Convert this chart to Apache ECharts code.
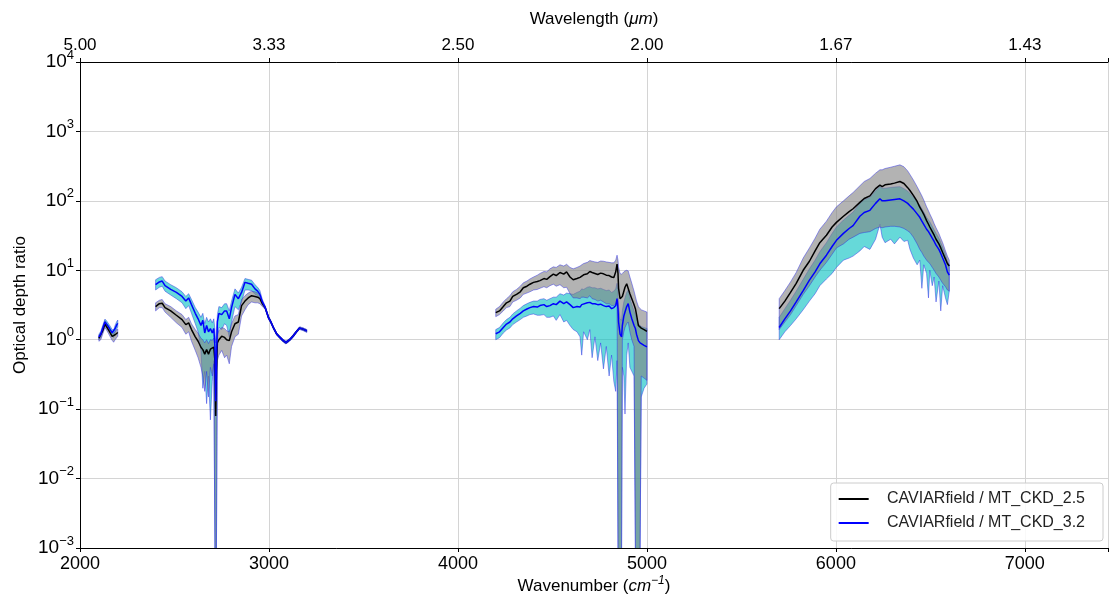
<!DOCTYPE html>
<html>
<head>
<meta charset="utf-8">
<script src="https://cdn.jsdelivr.net/npm/echarts@6/dist/echarts.min.js"></script>
<style>html,body{margin:0;padding:0;background:#fff}#c{width:1110px;height:595px}</style>
</head>
<body>
<div id="c"></div>
<script>
// ---- data (wavenumber in cm-1; optical depth ratios) ----
const s1_wn = [2100,2110,2120,2132,2140,2150,2160,2170,2178,2186,2195,2200];
const s1_k25 = [1.05,1.12,1.35,1.68,1.55,1.40,1.25,1.12,1.10,1.18,1.24,1.27];
const s1_k32 = [1.10,1.20,1.45,1.80,1.70,1.55,1.40,1.26,1.23,1.45,1.65,1.72];
const s1_k25lo = [0.95,1.0,1.2,1.5,1.38,1.24,1.1,0.98,0.92,1.0,1.08,1.12];
const s1_k25hi = [1.16,1.25,1.5,1.88,1.74,1.57,1.4,1.27,1.24,1.33,1.4,1.43];
const s1_k32lo = [1.0,1.08,1.3,1.62,1.52,1.38,1.24,1.12,1.08,1.28,1.46,1.52];
const s1_k32hi = [1.2,1.32,1.6,1.98,1.88,1.72,1.56,1.4,1.38,1.62,1.84,1.92];

const s2_wn = [2400,2420,2435,2450,2480,2510,2540,2560,2575,2590,2610,2625,2640,2650,2660,2670,2680,2690,2700,2708,2714,2718,2722,2727,2735,2750,2765,2776,2790,2802,2820,2838,2855,2873,2890,2908,2926,2940,2952,2965,2980,2997,3010,3023,3040,3058,3075,3090,3110,3129,3145,3162,3180,3200];
const s2_k25 = [3.0,3.3,3.35,2.9,2.6,2.25,1.95,1.65,1.75,1.4,1.1,0.95,0.78,0.72,0.62,0.72,0.62,0.73,0.7,0.78,0.5,0.08,0.35,0.9,1.0,1.12,1.08,1.0,0.97,1.3,1.7,1.8,3.1,3.6,4.0,4.3,4.2,4.1,3.9,3.3,2.9,2.1,1.8,1.5,1.22,1.08,0.97,0.91,1.0,1.14,1.3,1.47,1.42,1.34];
const s2_k32 = [6.2,6.8,7.0,6.0,5.3,4.8,4.2,3.6,4.0,3.2,2.4,2.0,1.6,1.9,1.25,1.6,1.3,1.45,1.25,1.45,0.8,0.13,0.5,1.8,2.4,2.3,2.6,2.6,2.0,2.9,4.5,3.9,4.8,6.7,6.5,6.3,5.4,5.0,4.5,3.5,2.9,2.1,1.8,1.5,1.22,1.08,0.97,0.91,1.0,1.14,1.3,1.47,1.42,1.34];
const s2_k25hi = [3.4,3.7,3.8,3.3,3.0,2.6,2.3,1.95,2.1,1.7,1.4,1.25,1.05,1.0,0.9,1.0,0.88,1.0,0.98,1.05,0.8,0.6,0.7,1.2,1.35,1.5,1.45,1.35,1.3,1.7,2.2,2.3,3.8,4.3,4.7,5.0,4.9,4.7,4.4,3.6,3.05,2.2,1.88,1.56,1.27,1.12,1.01,0.95,1.04,1.19,1.35,1.53,1.48,1.4];
const s2_k25lo = [2.6,2.9,2.9,2.5,2.1,1.75,1.5,1.2,1.3,0.95,0.7,0.55,0.4,0.3,0.18,0.35,0.15,0.4,0.3,0.45,1e-4,1e-4,1e-4,0.5,0.6,0.7,0.55,0.6,0.45,0.8,1.1,1.2,2.2,2.7,3.2,3.5,3.4,3.4,3.3,3.0,2.75,2.0,1.72,1.44,1.17,1.04,0.93,0.87,0.96,1.09,1.25,1.41,1.36,1.28];
const s2_k32hi = [7.3,7.9,8.1,7.0,6.2,5.6,4.9,4.2,4.6,3.8,2.9,2.5,2.1,2.4,1.7,2.1,1.8,2.0,1.75,2.0,1.4,0.9,1.2,2.3,3.0,2.9,3.3,3.3,2.6,3.6,5.4,4.7,5.7,7.6,7.4,7.2,6.2,5.7,5.1,3.8,3.05,2.2,1.88,1.56,1.27,1.12,1.01,0.95,1.04,1.19,1.35,1.53,1.48,1.4];
const s2_k32lo = [5.2,5.7,5.9,5.0,4.4,3.9,3.4,2.8,3.1,2.4,1.7,1.3,0.7,0.2,0.35,0.12,0.3,0.07,0.25,0.5,1e-4,1e-4,1e-4,1.0,1.5,1.4,1.7,1.6,1.1,1.8,3.0,2.7,3.5,5.2,5.2,5.1,4.5,4.3,3.9,3.2,2.75,2.0,1.72,1.44,1.17,1.04,0.93,0.87,0.96,1.09,1.25,1.41,1.36,1.28];

const s3_wn = [4200,4220,4240,4257,4275,4290,4310,4330,4346,4365,4381,4400,4420,4434,4455,4470,4487,4505,4520,4540,4560,4575,4593,4610,4630,4646,4655,4665,4685,4698,4710,4725,4740,4755,4770,4785,4800,4813,4825,4835,4842,4847,4850,4858,4866,4870,4878,4884,4893,4901,4910,4920,4932,4939,4945,4955,4964,4970,4985,5000];
const s3_k25 = [2.45,2.6,3.0,3.4,3.6,4.2,4.5,4.9,5.6,5.9,6.3,6.7,6.9,7.1,7.6,7.4,8.1,8.8,8.4,9.3,8.8,9.5,8.0,7.3,7.6,7.9,8.3,8.6,8.9,9.6,9.3,9.0,8.7,9.1,8.9,8.5,8.4,8.0,7.9,9.5,12.3,9.0,5.5,3.9,3.7,4.2,5.0,5.7,6.4,6.3,4.6,3.9,3.2,2.8,2.3,1.6,1.5,1.47,1.4,1.32];
const s3_k32 = [1.22,1.3,1.5,1.68,1.8,2.0,2.2,2.4,2.6,2.77,2.9,3.0,2.95,3.1,3.2,3.0,3.1,3.3,3.2,3.6,3.3,3.5,3.2,2.9,3.0,2.95,3.2,3.1,3.4,3.45,3.3,3.3,3.2,3.25,3.1,3.0,3.05,2.8,2.9,3.1,3.9,2.8,1.8,1.2,1.1,1.6,2.2,2.5,3.0,3.3,2.5,2.0,1.6,1.45,1.2,0.97,0.9,0.87,0.83,0.79];
const s3_k25hi = [2.75,3.0,3.5,3.9,4.3,4.9,5.3,5.9,6.6,7.0,7.5,8.0,8.5,9.0,9.6,9.5,10.5,11.2,11.0,12.0,11.5,12.2,11.0,10.5,11.0,11.5,12.0,12.5,13.0,13.8,13.5,13.2,13.0,13.6,13.5,13.2,13.0,12.8,12.8,14.0,16.5,14.0,11.0,9.0,8.8,9.0,9.5,9.8,10.0,9.8,8.0,6.5,5.0,4.2,3.6,3.0,2.8,2.7,2.6,2.5];
const s3_k25lo = [2.15,2.3,2.6,2.9,3.0,3.5,3.7,4.0,4.5,4.7,4.9,5.2,5.3,5.5,5.8,5.6,6.0,6.3,5.9,6.2,5.6,5.7,4.6,4.0,4.0,3.9,4.1,4.1,4.0,4.3,3.9,3.8,3.6,3.7,3.5,3.3,3.3,3.1,3.1,3.3,3.6,1e-4,1e-4,1e-4,1e-4,1.0,1.3,1.5,1.7,1.8,1.3,1.0,0.8,1e-4,1e-4,1e-4,1e-4,0.3,0.28,0.26];
const s3_k32hi = [1.4,1.5,1.75,1.95,2.1,2.35,2.6,2.85,3.1,3.3,3.45,3.6,3.6,3.8,3.9,3.7,3.9,4.1,4.1,4.6,4.4,4.7,4.6,4.5,4.8,5.0,5.4,5.3,5.7,5.8,5.6,5.6,5.4,5.5,5.3,5.1,5.2,4.8,5.0,5.4,6.5,4.8,3.0,2.0,1.9,2.6,3.5,4.0,4.8,5.2,4.0,3.2,2.6,2.3,2.0,1.7,1.6,1.55,1.5,1.45];
const s3_k32lo = [1.0,1.07,1.25,1.38,1.48,1.65,1.8,1.95,2.1,2.2,2.3,2.35,2.25,2.25,2.3,2.1,2.1,2.2,1.9,2.3,1.8,1.9,1.6,1.4,1.3,1.1,0.6,1.3,1.0,1.4,0.55,1.1,0.5,0.9,0.38,0.8,0.3,0.6,0.25,0.18,0.5,1e-4,1e-4,1e-4,1e-4,0.4,0.3,0.085,0.6,0.9,0.4,0.35,0.3,1e-4,1e-4,1e-4,1e-4,0.15,0.2,0.23];

const s4_wn = [5700,5730,5760,5790,5827,5860,5890,5915,5950,5980,6003,6040,6070,6091,6127,6150,6180,6210,6233,6245,6260,6290,6310,6339,6360,6380,6392,6410,6430,6444,6455,6465,6480,6490,6497,6510,6520,6530,6545,6555,6565,6580,6590,6600];
const s4_k25 = [2.8,3.6,4.8,6.5,10.0,13.5,19,25,32,42,49,60,70,77,95,108,118,150,168,160,170,175,180,190,178,155,141,120,98,81,72,64,52,46,42,36,32,28,24,21,18,14.5,12.5,11.5];
const s4_k32 = [1.5,2.0,2.6,3.5,5.1,7.2,9.5,12.4,16.5,22,27,34,40,44,60,68,73,92,107,100,100,103,105,107,100,92,85,76,65,58,51,46,39,36,33.5,29,26,23,20,17.5,15,12,9.5,8.5];
const s4_k25hi = [3.9,5.1,6.8,9.3,15,21,29,39,51,68,82,100,118,132,165,190,210,250,280,280,292,305,315,330,310,270,240,200,160,135,118,103,82,72,65,55,47,41,34,29,25,19,16,14];
const s4_k25lo = [1.4,1.8,2.3,3.1,4.5,6.0,8.0,10,13,17,21,24,28,30,34,35,36,40,42,41,42,43,43,42,40,37,35,30,24,20,18,16,14,13,12.5,11,10,9,8,7.2,6.5,5.8,5.2,5.0];
const s4_k32hi = [2.1,2.8,3.7,5.0,7.4,10.5,14,18.5,25,34,42,53,62,69,92,104,112,140,160,152,152,156,158,160,150,138,128,113,97,87,77,69,58,53,50,43,38,34,29,25,21.5,17,13.5,12];
const s4_k32lo = [1.0,1.3,1.6,2.0,2.7,3.6,4.6,6.0,7.5,9,11,14,15,16,19,22,20,28,46,30,25,28,24,30,26,27,20,15,12,14,5.5,12,9,4,10,6,8,3.5,7,2.6,6,4,3.2,5];

const xTicks = [2000, 3000, 4000, 5000, 6000, 7000];
const seriesNames = ['CAVIARfield / MT_CKD_2.5', 'CAVIARfield / MT_CKD_3.2'];

// ---- assembly ----
const WN = [s1_wn, s2_wn, s3_wn, s4_wn];
const K25 = [s1_k25, s2_k25, s3_k25, s4_k25];
const K32 = [s1_k32, s2_k32, s3_k32, s4_k32];
const K25LO = [s1_k25lo, s2_k25lo, s3_k25lo, s4_k25lo];
const K25HI = [s1_k25hi, s2_k25hi, s3_k25hi, s4_k25hi];
const K32LO = [s1_k32lo, s2_k32lo, s3_k32lo, s4_k32lo];
const K32HI = [s1_k32hi, s2_k32hi, s3_k32hi, s4_k32hi];

const FONT = 'Liberation Sans, Arial, sans-serif';

function bandSeries(LO, HI, fill, z) {
  return {
    type: 'custom',
    coordinateSystem: 'cartesian2d',
    clip: true,
    silent: true,
    z: z,
    encode: { x: 0, y: 1 },
    data: WN.map((w, i) => [w[0], HI[i][0], i]),
    renderItem: function (params, api) {
      const i = api.value(2);
      const cs = params.coordSys;
      const yTop = cs.y, yBot = cs.y + cs.height;
      const w = WN[i], lo = LO[i], hi = HI[i];
      const pts = [];
      const clampP = p => [p[0], Math.max(yTop, Math.min(yBot + 2, p[1]))];
      for (let j = 0; j < w.length; j++) pts.push(clampP(api.coord([w[j], hi[j]])));
      for (let j = w.length - 1; j >= 0; j--) pts.push(clampP(api.coord([w[j], lo[j]])));
      return {
        type: 'polygon',
        shape: { points: pts },
        style: { fill: fill, stroke: 'rgba(40,40,230,0.45)', lineWidth: 1 }
      };
    }
  };
}

function lineSeries(name, VALS, color, z) {
  return WN.map((w, i) => ({
    name: name,
    type: 'line',
    z: z,
    symbol: 'none',
    showSymbol: false,
    silent: true,
    clip: true,
    lineStyle: { color: color, width: 1.5 },
    itemStyle: { color: color },
    data: w.map((x, j) => [x, VALS[i][j]])
  }));
}

const supFmt = v => {
  const e = Math.round(Math.log10(v));
  return '{b|10}{s|' + (e < 0 ? '\u2212' + (-e) : String(e)) + '}';
};

const chart = echarts.init(document.getElementById('c'), null, { renderer: 'canvas' });
chart.setOption({
  animation: false,
  backgroundColor: '#ffffff',
  grid: { left: 80, right: 2, top: 62, bottom: 47, containLabel: false, outerBoundsMode: 'none' },
  legend: {
    orient: 'vertical',
    right: 7,
    bottom: 54,
    padding: [7, 18, 9, 8],
    itemGap: 6,
    itemWidth: 30,
    itemHeight: 2,
    backgroundColor: 'rgba(255,255,255,0.85)',
    borderColor: '#cccccc',
    borderWidth: 1,
    borderRadius: 3,
    textStyle: { fontFamily: FONT, fontSize: 16, color: '#222', lineHeight: 18 },
    formatter: n => '   ' + n,
    data: [
      { name: seriesNames[0], icon: 'rect', itemStyle: { color: '#000' } },
      { name: seriesNames[1], icon: 'rect', itemStyle: { color: '#0000ff' } }
    ]
  },
  xAxis: [
    {
      type: 'value', position: 'bottom',
      min: 2000, max: 7440, interval: 1000,
      name: 'Wavenumber ({i|cm}{s|\u22121})',
      nameLocation: 'middle', nameGap: 27, nameMoveOverlap: false,
      nameTextStyle: {
        fontFamily: FONT, fontSize: 17, color: '#000',
        rich: {
          i: { fontFamily: FONT, fontSize: 17, fontStyle: 'italic', color: '#000' },
          s: { fontFamily: FONT, fontSize: 12, fontStyle: 'italic', color: '#000', padding: [0, 0, 10, 0] }
        }
      },
      axisLine: { show: true, lineStyle: { color: '#000', width: 1 } },
      axisTick: { show: true, inside: false, length: 4, lineStyle: { color: '#000' } },
      axisLabel: { fontFamily: FONT, fontSize: 18, color: '#000', margin: 7,
        formatter: v => xTicks.indexOf(v) >= 0 ? String(v) : '' },
      splitLine: { show: true, lineStyle: { color: '#d4d4d4', width: 1 } }
    },
    {
      type: 'value', position: 'top',
      min: 2000, max: 7440, interval: 1000,
      name: 'Wavelength ({i|\u03bcm})',
      nameLocation: 'middle', nameGap: 34, nameMoveOverlap: false,
      nameTextStyle: {
        fontFamily: FONT, fontSize: 17, color: '#000',
        rich: { i: { fontFamily: FONT, fontSize: 17, fontStyle: 'italic', color: '#000' } }
      },
      axisLine: { show: true, lineStyle: { color: '#000', width: 1 } },
      axisTick: { show: true, inside: false, length: 4, lineStyle: { color: '#000' } },
      axisLabel: { fontFamily: FONT, fontSize: 17, color: '#000', margin: 8,
        formatter: v => xTicks.indexOf(v) >= 0 ? (10000 / v).toFixed(2) : '' },
      splitLine: { show: false }
    }
  ],
  yAxis: {
    type: 'log', logBase: 10,
    min: 0.001, max: 10000,
    name: 'Optical depth ratio',
    nameLocation: 'middle', nameGap: 51, nameMoveOverlap: false,
    nameTextStyle: { fontFamily: FONT, fontSize: 17, color: '#000' },
    axisLine: { show: true, lineStyle: { color: '#000', width: 1 } },
    axisTick: { show: true, inside: false, length: 4, lineStyle: { color: '#000' } },
    axisLabel: {
      margin: 6, color: '#000', formatter: supFmt,
      rich: {
        b: { fontFamily: FONT, fontSize: 19, color: '#000' },
        s: { fontFamily: FONT, fontSize: 13, color: '#000', padding: [0, 0, 14, 0] }
      }
    },
    splitLine: { show: true, lineStyle: { color: '#d4d4d4', width: 1 } }
  },
  series: [
    bandSeries(K32LO, K32HI, 'rgba(0,191,191,0.6)', 2),
    bandSeries(K25LO, K25HI, 'rgba(128,128,128,0.6)', 3)
  ].concat(lineSeries(seriesNames[0], K25, '#000000', 4))
   .concat(lineSeries(seriesNames[1], K32, '#0000ff', 5))
});
</script>
</body>
</html>
